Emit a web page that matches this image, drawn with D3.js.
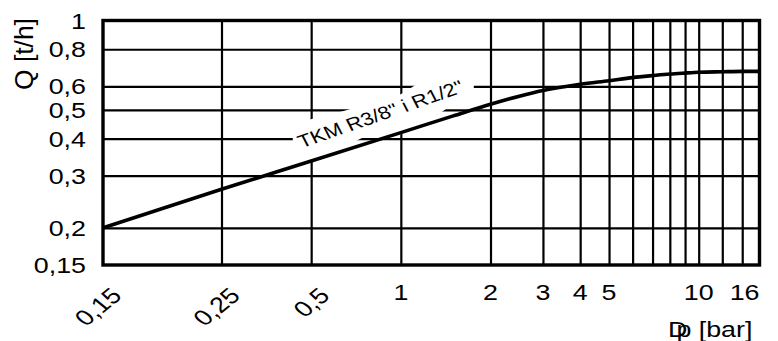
<!DOCTYPE html>
<html><head><meta charset="utf-8">
<script src="https://cdn.jsdelivr.net/npm/d3@7"></script>
<style>
body{margin:0;background:#fff}
svg{display:block}
text{font-family:"Liberation Sans",Arial,Helvetica,sans-serif;fill:#000}
</style>
</head><body>
<svg id="c" width="778" height="341"></svg>
<script>
// ---- data ----
const dp = [0.15, 0.25, 0.5, 1, 1.5, 2, 2.5, 3, 4, 5, 6, 7, 8, 9, 10, 12, 14, 16];
const q  = [0.2, 0.270, 0.336, 0.419, 0.477, 0.522, 0.556, 0.581, 0.610, 0.627, 0.642, 0.652, 0.660, 0.665, 0.669, 0.672, 0.674, 0.674];
const xGrid = [0.25, 0.5, 1, 2, 3, 4, 5, 6, 7, 8, 9, 10, 12, 14];
const yGrid = [0.2, 0.3, 0.4, 0.5, 0.6, 0.8];
const yTicks = [1, 0.8, 0.6, 0.5, 0.4, 0.3, 0.2, 0.15];
const yTickLabels = ["1", "0,8", "0,6", "0,5", "0,4", "0,3", "0,2", "0,15"];
const xTicksRot = [0.15, 0.25, 0.5];
const xTicksRotLabels = ["0,15", "0,25", "0,5"];
const xTicks = [1, 2, 3, 4, 5, 10, 16];
const xTickLabels = ["1", "2", "3", "4", "5", "10", "16"];
const seriesLabel = 'TKM R3/8" i R1/2"';
const seriesLabelAt = [0.465, 0.371];
const yTitle = "Q [t/h]";
const xTitle = "Dp [bar]";

// ---- layout ----
const SX = 1.22; // horizontal stretch of lettering
const L = 103, R = 759.5, T = 20.5, B = 265;
const svg = d3.select("#c");
const x = d3.scaleLog().domain([0.15, 0.25, 16]).range([L, 221.5, R]);
const y = d3.scaleLog().domain([0.15, 1]).range([B, T]);

// grid
svg.append("g").attr("transform", `translate(0,${B})`)
  .call(d3.axisBottom(x).tickValues(xGrid).tickSize(-(B - T)).tickFormat(""))
  .call(g => { g.select(".domain").remove(); g.selectAll("line").attr("stroke", "#000").attr("stroke-width", 2.2); });
svg.append("g").attr("transform", `translate(${L},0)`)
  .call(d3.axisLeft(y).tickValues(yGrid).tickSize(-(R - L)).tickFormat(""))
  .call(g => { g.select(".domain").remove(); g.selectAll("line").attr("stroke", "#000").attr("stroke-width", 2.2); });

// label mask (white patch cutting grid lines behind the series label)
const ox = x(seriesLabelAt[0]), oy = y(seriesLabelAt[1]);
const patch = [[-9,-15],[9,-29],[41,-37],[99,-54],[115,-64],[172,-64],[172,-59],[141,-37],[99,-14],[64,-12],[9,14],[-9,-8]];
svg.append("polygon")
  .attr("points", patch.map(p => [ox + p[0], oy + p[1]].join(",")).join(" "))
  .attr("fill", "#fff");

// curve
svg.append("path")
  .datum(dp.map((d, i) => [d, q[i]]))
  .attr("fill", "none").attr("stroke", "#000").attr("stroke-width", 3.6)
  .attr("d", d3.line().x(d => x(d[0])).y(d => y(d[1])).curve(d3.curveMonotoneX));

// series label
svg.append("text")
  .attr("transform", `translate(${ox},${oy}) scale(${SX},1) rotate(-23)`)
  .attr("font-size", 18).text(seriesLabel);

// frame
svg.append("rect").attr("x", L).attr("y", T).attr("width", R - L).attr("height", B - T)
  .attr("fill", "none").attr("stroke", "#000").attr("stroke-width", 3.4);

// y tick labels
svg.append("g").selectAll("text").data(yTicks).join("text")
  .attr("transform", d => `translate(86,${y(d) + 8}) scale(${SX},1)`)
  .attr("text-anchor", "end").attr("font-size", 22)
  .text((d, i) => yTickLabels[i]);

// x tick labels (rotated)
svg.append("g").selectAll("text").data(xTicksRot).join("text")
  .attr("transform", d => `translate(${x(d) + 20},297) scale(${SX},1) rotate(-45)`)
  .attr("text-anchor", "end").attr("font-size", 22)
  .text((d, i) => xTicksRotLabels[i]);

// x tick labels (upright)
svg.append("g").selectAll("text").data(xTicks).join("text")
  .attr("transform", d => `translate(${x(d)},300) scale(${SX},1)`)
  .attr("text-anchor", (d, i) => i === xTicks.length - 1 ? "end" : "middle").attr("font-size", 22)
  .text((d, i) => xTickLabels[i]);

// y title: fitted to run from y=90 up to y=18
const yt = svg.append("text")
  .attr("transform", `translate(32.5,90) rotate(-90)`)
  .attr("font-size", 24).text(yTitle);
const ytl = yt.node().getComputedTextLength();
yt.attr("font-size", 24 * 72 / ytl);

// x title: "D" and "p" drawn overlapping as in the source
svg.append("text")
  .attr("transform", `translate(668,337) scale(${SX},1)`)
  .attr("font-size", 22)
  .attr("dx", "0 -9")
  .text(xTitle);
</script>
</body></html>
